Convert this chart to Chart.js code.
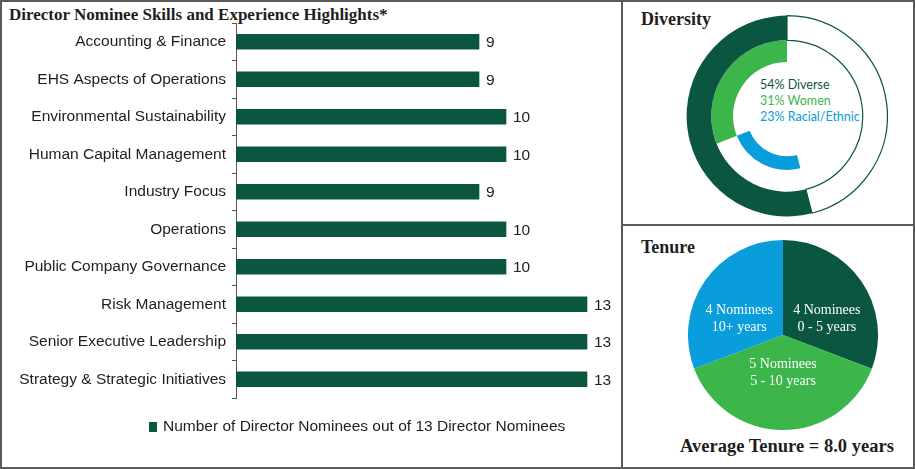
<!DOCTYPE html>
<html>
<head>
<meta charset="utf-8">
<script src="https://cdn.jsdelivr.net/npm/chart.js@4"></script>
<style>
  body { margin: 0; background: #fff; }
  #wrap { position: relative; width: 915px; height: 469px; overflow: hidden; }
  .frame { position: absolute; border: 2px solid #5a5a5a; box-sizing: border-box; }
  .abs { position: absolute; white-space: nowrap; }
  .serifB { font-family: "Liberation Serif", "Times New Roman", serif; font-weight: bold; color: #1e1e1e; }
  .div-txt { font-family: Lato, "Open Sans", sans-serif; font-size: 12.5px; line-height: 13px; left: 760px; }
  canvas { position: absolute; }
  #skillsLegend { left: 149px; top: 418px; font: 15.5px/16px "Liberation Sans", Arial, sans-serif; color: #1e1e1e; }
  #skillsLegend span.box { display: inline-block; width: 8px; height: 10px; margin-right: 6px; vertical-align: -1px; }
</style>
</head>
<body>
<div id="wrap">
  <div class="frame" style="left:0;top:0;width:623px;height:469px;"></div>
  <div class="frame" style="left:621px;top:0;width:294px;height:226px;"></div>
  <div class="frame" style="left:621px;top:224px;width:294px;height:245px;"></div>

  <div class="abs serifB" style="left:9px;top:6px;font-size:17px;line-height:17px;">Director Nominee Skills and Experience Highlights*</div>
  <div class="abs serifB" style="left:641px;top:10px;font-size:18px;line-height:18px;">Diversity</div>
  <div class="abs serifB" style="left:641px;top:238px;font-size:18px;line-height:18px;">Tenure</div>
  <div class="abs serifB" id="avgTenure" style="left:680px;top:437px;font-size:18.5px;line-height:18px;"></div>

  <div class="abs div-txt" id="txtDiverse" style="top:78px;color:#0b5640;"></div>
  <div class="abs div-txt" id="txtWomen" style="top:94px;color:#3cb54a;"></div>
  <div class="abs div-txt" id="txtEthnic" style="top:110px;color:#0a9ddb;"></div>

  <canvas id="skills" width="620" height="469" style="left:0;top:0;"></canvas>
  <div class="abs" id="skillsLegend"></div>
  <canvas id="diversity" width="202" height="202" style="left:686px;top:15px;"></canvas>
  <canvas id="tenure" width="190" height="190" style="left:688px;top:240px;"></canvas>
</div>
<script>
// skills
const skillLabels = [
  "Accounting & Finance",
  "EHS Aspects of Operations",
  "Environmental Sustainability",
  "Human Capital Management",
  "Industry Focus",
  "Operations",
  "Public Company Governance",
  "Risk Management",
  "Senior Executive Leadership",
  "Strategy & Strategic Initiatives"
];
const skillCounts = [9, 9, 10, 10, 9, 10, 10, 13, 13, 13];
const skillSeriesName = "Number of Director Nominees out of 13 Director Nominees";

// diversity (percent)
const diversePct = 54;
const womenPct = 31;
const ethnicPct = 23;

// tenure
const tenureGroups = ["0 - 5 years", "5 - 10 years", "10+ years"];
const tenureCounts = [4, 5, 4];
const averageTenure = 8.0;

const DARK = "#0b5640";
const GREEN = "#3cb54a";
const BLUE = "#0a9ddb";
const NONE = "rgba(0,0,0,0)";

Chart.defaults.animation = false;

// numbers at the end of the bars
const barValueLabels = {
  id: "barValueLabels",
  afterDatasetsDraw(chart) {
    const ctx = chart.ctx;
    const meta = chart.getDatasetMeta(0);
    ctx.save();
    ctx.font = '15.5px "Liberation Sans", Arial, sans-serif';
    ctx.fillStyle = "#1e1e1e";
    ctx.textBaseline = "middle";
    meta.data.forEach(function(bar, i) {
      ctx.fillText(skillCounts[i], bar.x + 7, bar.y + 1);
    });
    ctx.restore();
  }
};

// legend as html, built from the chart's own legend items
const htmlLegend = {
  id: "htmlLegend",
  afterUpdate(chart) {
    const box = document.getElementById("skillsLegend");
    const items = chart.options.plugins.legend.labels.generateLabels(chart);
    box.innerHTML = "";
    items.forEach(function(item) {
      const sq = document.createElement("span");
      sq.className = "box";
      sq.style.background = item.fillStyle;
      box.appendChild(sq);
      box.appendChild(document.createTextNode(item.text));
    });
  }
};

new Chart(document.getElementById("skills"), {
  type: "bar",
  data: {
    labels: skillLabels,
    datasets: [{
      label: skillSeriesName,
      data: skillCounts,
      backgroundColor: DARK,
      borderWidth: 0,
      barThickness: 15
    }]
  },
  options: {
    indexAxis: "y",
    responsive: false,
    events: [],
    layout: { padding: { left: 0, top: 23, right: 6, bottom: 71 } },
    scales: {
      x: { display: false, min: 0, max: 14 },
      y: {
        afterFit: function(scale) { scale.width = 236; },
        grid: { drawOnChartArea: false, drawTicks: true, tickLength: 4, color: "#555" },
        border: { display: true, color: "#555", width: 1 },
        ticks: {
          color: "#1e1e1e",
          padding: 6,
          font: { family: '"Liberation Sans", Arial, sans-serif', size: 15.5 }
        }
      }
    },
    plugins: {
      legend: { display: false },
      tooltip: { enabled: false }
    }
  },
  plugins: [barValueLabels, htmlLegend]
});

// diversity rings
new Chart(document.getElementById("diversity"), {
  type: "doughnut",
  data: {
    datasets: [
      {
        data: [100 - diversePct, diversePct],
        backgroundColor: ["#ffffff", DARK],
        borderColor: [DARK, DARK],
        borderWidth: [1.2, 0],
        weight: 25,
        hoverOffset: 0
      },
      {
        data: [100 - womenPct, womenPct],
        backgroundColor: [NONE, GREEN],
        borderWidth: 0,
        weight: 22,
        hoverOffset: 0
      },
      {
        data: [100 - diversePct, ethnicPct, womenPct],
        backgroundColor: [NONE, BLUE, NONE],
        borderWidth: 0,
        weight: 14,
        hoverOffset: 0
      }
    ]
  },
  options: {
    responsive: false,
    events: [],
    cutout: "40%",
    plugins: { legend: { display: false }, tooltip: { enabled: false } }
  }
});

document.getElementById("txtDiverse").textContent = diversePct + "% Diverse";
document.getElementById("txtWomen").textContent = womenPct + "% Women";
document.getElementById("txtEthnic").textContent = ethnicPct + "% Racial/Ethnic";

// text inside the pie slices
const pieSliceLabels = {
  id: "pieSliceLabels",
  afterDatasetsDraw(chart) {
    const ctx = chart.ctx;
    const meta = chart.getDatasetMeta(0);
    ctx.save();
    ctx.font = '14px "Liberation Serif", "Times New Roman", serif';
    ctx.fillStyle = "#ffffff";
    ctx.textAlign = "center";
    ctx.textBaseline = "middle";
    meta.data.forEach(function(arc, i) {
      const mid = (arc.startAngle + arc.endAngle) / 2;
      const R = arc.outerRadius;
      const x = arc.x + Math.cos(mid) * R * 0.56;
      const y = arc.y + Math.sin(mid) * R * 0.36 + 3;
      ctx.fillText(tenureCounts[i] + " Nominees", x, y - 8);
      ctx.fillText(tenureGroups[i], x, y + 9);
    });
    ctx.restore();
  }
};

new Chart(document.getElementById("tenure"), {
  type: "pie",
  data: {
    labels: tenureGroups,
    datasets: [{
      data: tenureCounts,
      backgroundColor: [DARK, GREEN, BLUE],
      borderWidth: 0,
      hoverOffset: 0
    }]
  },
  options: {
    responsive: false,
    events: [],
    plugins: { legend: { display: false }, tooltip: { enabled: false } }
  },
  plugins: [pieSliceLabels]
});

document.getElementById("avgTenure").textContent = "Average Tenure = " + averageTenure.toFixed(1) + " years";
</script>
</body>
</html>
